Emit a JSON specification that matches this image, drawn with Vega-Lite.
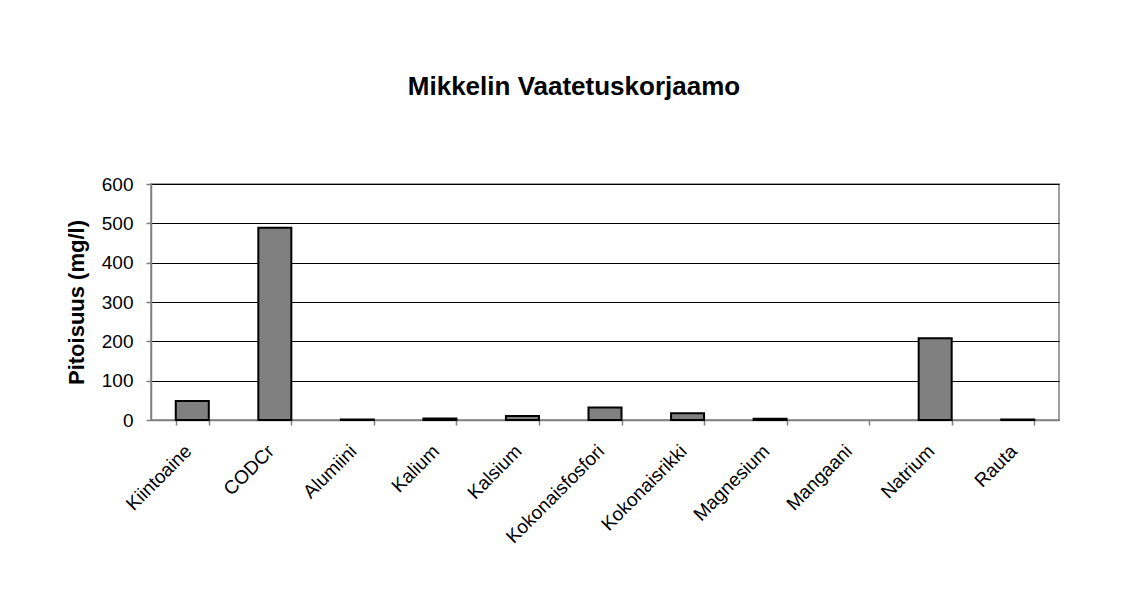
{
  "$schema": "https://vega.github.io/schema/vega-lite/v6.json",
  "width": 908,
  "height": 236,
  "autosize": "none",
  "padding": {"left": 151, "top": 184, "right": 71, "bottom": 179},
  "background": "white",
  "title": {
    "text": "Mikkelin Vaatetuskorjaamo",
    "font": "Liberation Sans",
    "fontSize": 26,
    "fontWeight": "bold",
    "color": "black",
    "anchor": "middle",
    "dx": -31,
    "offset": 75
  },
  "data": {
    "values": [
      {"aine": "Kiintoaine", "pitoisuus": 48},
      {"aine": "CODCr", "pitoisuus": 489},
      {"aine": "Alumiini", "pitoisuus": 1.5},
      {"aine": "Kalium", "pitoisuus": 4},
      {"aine": "Kalsium", "pitoisuus": 10},
      {"aine": "Kokonaisfosfori", "pitoisuus": 32},
      {"aine": "Kokonaisrikki", "pitoisuus": 17},
      {"aine": "Magnesium", "pitoisuus": 3},
      {"aine": "Mangaani", "pitoisuus": 0},
      {"aine": "Natrium", "pitoisuus": 208},
      {"aine": "Rauta", "pitoisuus": 1.5}
    ]
  },
  "mark": {"type": "bar", "fill": "#808080", "stroke": "black", "strokeWidth": 2},
  "encoding": {
    "x": {
      "field": "aine",
      "type": "nominal",
      "sort": null,
      "scale": {"paddingInner": 0.6, "paddingOuter": 0.3},
      "axis": {
        "title": null,
        "grid": false,
        "labelAngle": -45,
        "labelAlign": "right",
        "labelBaseline": "alphabetic",
        "labelPadding": 27,
        "tickSize": 5,
        "tickBand": "extent",
        "domainColor": "#808080",
        "domainWidth": 1.5,
        "tickColor": "#808080",
        "tickWidth": 1.5,
        "labelFont": "Liberation Sans",
        "labelFontSize": 19,
        "labelColor": "black"
      }
    },
    "y": {
      "field": "pitoisuus",
      "type": "quantitative",
      "scale": {"domain": [0, 600], "nice": false},
      "axis": {
        "title": "Pitoisuus (mg/l)",
        "values": [0, 100, 200, 300, 400, 500, 600],
        "grid": true,
        "gridColor": "black",
        "gridWidth": 1,
        "gridOpacity": 1,
        "tickSize": 5,
        "labelPadding": 13,
        "domainColor": "#808080",
        "domainWidth": 1.5,
        "tickColor": "#808080",
        "tickWidth": 1.5,
        "labelFont": "Liberation Sans",
        "labelFontSize": 19,
        "labelColor": "black",
        "titleFont": "Liberation Sans",
        "titleFontSize": 22,
        "titleFontWeight": "bold",
        "titleColor": "black",
        "titlePadding": 13
      }
    },
    "strokeOpacity": {
      "condition": {"test": "datum.pitoisuus == 0", "value": 0},
      "value": 1
    }
  },
  "config": {
    "view": {"stroke": "#808080", "strokeWidth": 1.5}
  }
}
